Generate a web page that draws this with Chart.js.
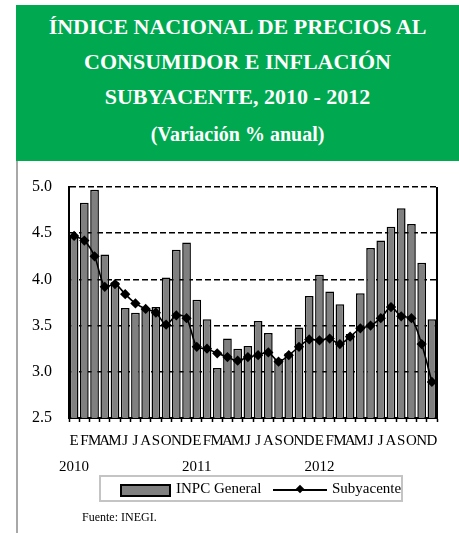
<!DOCTYPE html>
<html>
<head>
<meta charset="utf-8">
<script src="https://cdn.jsdelivr.net/npm/chart.js@4"></script>
<style>
  html, body { margin: 0; padding: 0; background: #fff; }
  body { width: 459px; height: 533px; position: relative; overflow: hidden; font-family: "Liberation Serif", "DejaVu Serif", serif; }
  #header { position: absolute; left: 16px; top: 5px; width: 443px; height: 156px; background: #00A94F; color: #fff; text-align: center; font-weight: bold; }
  #header .l { position: absolute; left: 0; width: 100%; font-size: 22px; line-height: 24px; white-space: nowrap; }
  #leftline { position: absolute; left: 16px; top: 161px; width: 2px; height: 372px; background: #a8a8a8; }
  #chartWrap { position: absolute; left: 18px; top: 172px; width: 441px; height: 306px; }
  #chartWrap canvas { display: block; }
  #legend { position: absolute; left: 99px; top: 475px; width: 300px; height: 23px; border: 2px solid #c4c4c4; }
  #swatch { position: absolute; left: 19px; top: 7px; width: 47px; height: 9px; background: #808080; border: 2px solid #000; }
  .lt { position: absolute; top: 1px; font-size: 15px; line-height: 20px; color: #000; white-space: nowrap; }
  #lline { position: absolute; left: 172px; top: 12px; width: 54px; height: 2px; background: #000; }
  #ldot { position: absolute; left: 196px; top: 9px; width: 6px; height: 6px; background: #000; transform: rotate(45deg); }
  #fuente { position: absolute; left: 82px; top: 510px; font-size: 12px; color: #000; }
</style>
</head>
<body>
<div id="header">
  <div class="l" style="top:10px">ÍNDICE NACIONAL DE PRECIOS AL</div>
  <div class="l" style="top:45px">CONSUMIDOR E INFLACIÓN</div>
  <div class="l" style="top:80px">SUBYACENTE, 2010 - 2012</div>
  <div class="l" style="top:117px;font-size:20px">(Variación % anual)</div>
</div>
<div id="leftline"></div>
<div id="chartWrap"><canvas id="c" width="441" height="306"></canvas></div>
<div id="legend">
  <div id="swatch"></div>
  <div class="lt" style="left:75px">INPC General</div>
  <div id="lline"></div>
  <div id="ldot"></div>
  <div class="lt" style="left:231px">Subyacente</div>
</div>
<div id="fuente">Fuente: INEGI.</div>
<script>
const months = ['E','F','M','A','M','J','J','A','S','O','N','D'];
const years = ['2010','2011','2012'];
const inpcGeneral = [4.46, 4.83, 4.97, 4.27, 3.97, 3.69, 3.64, 3.68, 3.70, 4.02, 4.32, 4.40,
                     3.78, 3.57, 3.04, 3.36, 3.25, 3.28, 3.55, 3.42, 3.14, 3.20, 3.48, 3.82,
                     4.05, 3.87, 3.73, 3.41, 3.85, 4.34, 4.42, 4.57, 4.77, 4.60, 4.18, 3.57];
const subyacente = [4.47, 4.42, 4.25, 3.92, 3.95, 3.84, 3.74, 3.68, 3.64, 3.51, 3.61, 3.58,
                    3.27, 3.25, 3.20, 3.16, 3.12, 3.16, 3.18, 3.21, 3.11, 3.18, 3.27, 3.35,
                    3.34, 3.36, 3.30, 3.38, 3.47, 3.50, 3.58, 3.70, 3.60, 3.58, 3.30, 2.89];
const yTicks = { min: 2.5, max: 5.0, step: 0.5 };

const labels = [];
years.forEach((y, yi) => months.forEach((m, mi) => labels.push(mi === 0 ? [m, y] : m)));

const frame = {
  id: 'frame',
  afterDatasetsDraw(chart) {
    const {ctx, chartArea: a} = chart;
    ctx.save();
    ctx.strokeStyle = '#000';
    ctx.lineWidth = 2;
    ctx.beginPath();
    ctx.moveTo(a.right, a.top);
    ctx.lineTo(a.right, a.bottom);
    ctx.stroke();
    ctx.restore();
  }
};

new Chart(document.getElementById('c'), {
  type: 'bar',
  data: {
    labels,
    datasets: [
      {
        type: 'line', label: 'Subyacente', data: subyacente, order: 0,
        borderColor: '#000', backgroundColor: '#000', borderWidth: 1.6,
        pointStyle: 'rectRot', pointRadius: 4, pointBackgroundColor: '#000', pointBorderColor: '#000',
        tension: 0.3, fill: false
      },
      {
        label: 'INPC General', data: inpcGeneral, order: 1,
        backgroundColor: '#808080', borderColor: '#000', borderWidth: 1.5,
        categoryPercentage: 0.85, barPercentage: 1.0
      }
    ]
  },
  options: {
    responsive: false,
    animation: false,
    layout: { padding: { top: 15, right: 22, left: 0, bottom: 0 } },
    plugins: { legend: { display: false }, tooltip: { enabled: false } },
    scales: {
      x: {
        offset: true,
        grid: { display: true, drawOnChartArea: false, drawTicks: true, tickLength: 4, tickColor: '#000', tickWidth: 1.5, offset: true },
        border: { display: true, color: '#000', width: 2 },
        ticks: { autoSkip: false, maxRotation: 0, minRotation: 0, color: '#000', padding: 7,
                 font: { family: 'Liberation Serif', size: 15, lineHeight: 1.67 } },
        afterFit(s) { s.height = 60; s.paddingTop = 0; s.paddingBottom = 0; s.paddingLeft = 0; s.paddingRight = 0; }
      },
      y: {
        min: yTicks.min, max: yTicks.max,
        grid: {
          drawTicks: false,
          color: (c) => (c.tick && (c.tick.value === yTicks.min)) ? 'rgba(0,0,0,0)' : '#000',
          lineWidth: 1.6
        },
        border: { display: true, color: '#000', width: 2, dash: [6, 3] },
        ticks: { stepSize: yTicks.step, color: '#000', padding: 17,
                 font: { family: 'Liberation Serif', size: 16 },
                 callback: (v) => Number(v).toFixed(1) },
        afterFit(s) { s.width = 51; s.paddingTop = 0; s.paddingBottom = 0; }
      }
    }
  },
  plugins: [frame]
});
</script>
</body>
</html>
